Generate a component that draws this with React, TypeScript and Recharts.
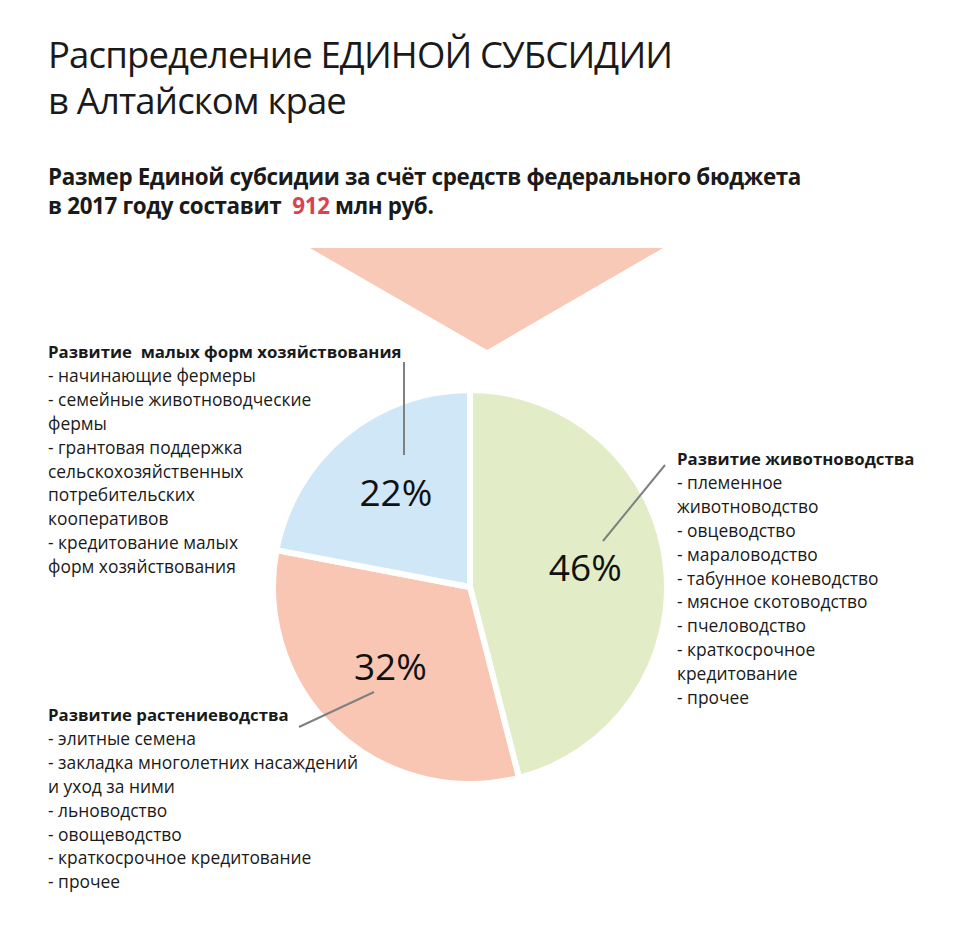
import { PieChart, Pie, Cell } from "recharts";

const categories = ["Развитие животноводства", "Развитие растениеводства", "Развитие малых форм хозяйствования"];
const shares = [46, 32, 22];
const colors = ["#e2ecc6", "#f8c6b2", "#d0e7f8"];

const titleLines = ["Распределение ЕДИНОЙ СУБСИДИИ", "в Алтайском крае"];
const totalAmount = "912";

const smallFormsItems = [
  "- начинающие фермеры",
  "- семейные животноводческие",
  "фермы",
  "- грантовая поддержка",
  "сельскохозяйственных",
  "потребительских",
  "кооперативов",
  "- кредитование малых",
  "форм хозяйствования",
];
const livestockItems = [
  "- племенное",
  "животноводство",
  "- овцеводство",
  "- мараловодство",
  "- табунное коневодство",
  "- мясное скотоводство",
  "- пчеловодство",
  "- краткосрочное",
  "кредитование",
  "- прочее",
];
const cropItems = [
  "- элитные семена",
  "- закладка многолетних насаждений",
  "и уход за ними",
  "- льноводство",
  "- овощеводство",
  "- краткосрочное кредитование",
  "- прочее",
];

const data = categories.map((name, i) => ({ name, value: shares[i] }));

const FONT = "'Open Sans', 'Noto Sans', sans-serif";
const RAD = Math.PI / 180;

function renderLabel(props: any) {
  const { cx, cy, midAngle, outerRadius, value } = props;
  const r = outerRadius * 0.59;
  const x = cx + r * Math.cos(-midAngle * RAD);
  const y = cy + r * Math.sin(-midAngle * RAD) - 6;
  return (
    <text x={x} y={y} textAnchor="middle" dominantBaseline="central" fill="#111" fontSize={37} fontFamily={FONT}>
      {value}%
    </text>
  );
}

function Block({ title, items, left, top }: { title: string; items: string[]; left: number; top: number }) {
  return (
    <div style={{ position: "absolute", left, top, fontFamily: FONT, fontSize: 17.4, lineHeight: "23.9px", color: "#1a1a1a", whiteSpace: "nowrap" }}>
      <div style={{ fontWeight: 700, fontSize: 16.8 }}>{title}</div>
      {items.map((t) => (
        <div key={t}>{t}</div>
      ))}
    </div>
  );
}

export default function App() {
  return (
    <div style={{ position: "absolute", left: 0, top: 0, width: 960, height: 945, background: "#fff", overflow: "hidden" }}>
      <div style={{ position: "absolute", left: 48, top: 31, fontFamily: FONT, fontSize: 36.5, lineHeight: "46px", color: "#1a1a1a", letterSpacing: -0.85, whiteSpace: "nowrap" }}>
        {titleLines.map((t) => (
          <div key={t}>{t}</div>
        ))}
      </div>
      <div style={{ position: "absolute", left: 48, top: 162, fontFamily: FONT, fontSize: 22.4, fontWeight: 700, lineHeight: "29px", color: "#1a1a1a", letterSpacing: -0.35, whiteSpace: "nowrap" }}>
        <div>Размер Единой субсидии за счёт средств федерального бюджета</div>
        <div>
          в 2017 году составит&nbsp; <span style={{ color: "#d9434f" }}>{totalAmount}</span> млн руб.
        </div>
      </div>

      <svg width={960} height={945} style={{ position: "absolute", left: 0, top: 0 }}>
        <polygon points="310,248 663,248 487,350" fill="#f8c9b7" />
      </svg>

      <div style={{ position: "absolute", left: 0, top: 0 }}>
        <PieChart width={960} height={945} margin={{ top: 0, right: 0, bottom: 0, left: 0 }}>
          <Pie
            data={data}
            dataKey="value"
            nameKey="name"
            cx={470}
            cy={587}
            outerRadius={197}
            startAngle={90}
            endAngle={-270}
            stroke="#ffffff"
            strokeWidth={6}
            label={renderLabel}
            labelLine={false}
            isAnimationActive={false}
          >
            {data.map((d, i) => (
              <Cell key={d.name} fill={colors[i]} />
            ))}
          </Pie>
        </PieChart>
      </div>

      <svg width={960} height={945} style={{ position: "absolute", left: 0, top: 0, pointerEvents: "none" }}>
        <line x1={404} y1={362} x2={404} y2={455} stroke="#808080" strokeWidth={2} />
        <line x1={665} y1={465} x2={603} y2={541} stroke="#808080" strokeWidth={2} />
        <line x1={299} y1={727} x2={374} y2={692} stroke="#808080" strokeWidth={2} />
      </svg>

      <Block title={"Развитие\u00a0 малых форм хозяйствования"} items={smallFormsItems} left={48} top={340} />
      <Block title="Развитие животноводства" items={livestockItems} left={677} top={447} />
      <Block title="Развитие растениеводства" items={cropItems} left={48} top={703} />
    </div>
  );
}
